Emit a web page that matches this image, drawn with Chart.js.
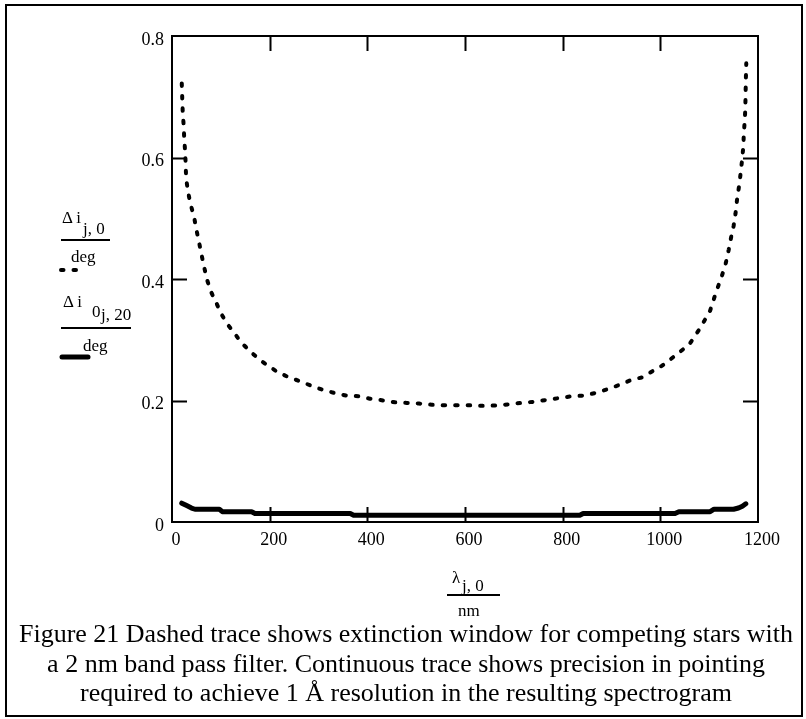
<!DOCTYPE html>
<html>
<head>
<meta charset="utf-8">
<script src="https://cdn.jsdelivr.net/npm/chart.js@4.4.1/dist/chart.umd.min.js"></script>
<style>
  html, body { margin:0; padding:0; background:#fff; }
  #page { position:relative; width:806px; height:719px; overflow:hidden; font-family:"Liberation Serif","Times New Roman",serif; color:#000; }
  #frame { position:absolute; left:5px; top:4px; width:798px; height:713px; border:2px solid #000; box-sizing:border-box; }
  canvas { position:absolute; left:0; top:0; }
  .t { position:absolute; white-space:pre; line-height:17px; font-size:17px; }
  .rule { position:absolute; height:0; border-top:2px solid #000; }
  #caption { position:absolute; left:0; width:812px; top:619px; text-align:center; font-size:26px; line-height:29.5px; white-space:nowrap; }
</style>
</head>
<body>
<div id="page">
  <div id="frame"></div>
  <canvas id="c" width="806" height="719"></canvas>

  <div class="t" style="left:62px;top:209px;">Δ i</div>
  <div class="t" style="left:83px;top:220px;">j, 0</div>
  <div class="rule" style="left:61px;top:239px;width:49px;"></div>
  <div class="t" style="left:71px;top:248px;">deg</div>

  <div class="t" style="left:63px;top:293px;">Δ i</div>
  <div class="t" style="left:92px;top:303px;">0</div>
  <div class="t" style="left:101px;top:306px;">j, 20</div>
  <div class="rule" style="left:61px;top:327px;width:70px;"></div>
  <div class="t" style="left:83px;top:337px;">deg</div>

  <div class="t" style="left:452px;top:569px;">λ</div>
  <div class="t" style="left:462px;top:577px;">j, 0</div>
  <div class="rule" style="left:447px;top:594px;width:53px;"></div>
  <div class="t" style="left:458px;top:602px;">nm</div>

  <div id="caption">Figure 21 Dashed trace shows extinction window for competing stars with<br>a 2 nm band pass filter. Continuous trace shows precision in pointing<br>required to achieve 1 Å resolution in the resulting spectrogram</div>
</div>
<script>
// ---- data ----
const xTicks = [0, 200, 400, 600, 800, 1000, 1200];
const yTicks = [0, 0.2, 0.4, 0.6, 0.8];
const xTickLabels = ['0', '200', '400', '600', '800', '1000', '1200'];
const yTickLabels = ['0', '0.2', '0.4', '0.6', '0.8'];

// dashed trace: extinction window (deg) vs wavelength (nm)
const dashX = [20, 21, 22, 24, 25, 27, 28, 29, 33, 38, 45, 50, 56, 61, 66, 72, 81, 90, 100, 112,
  126, 141, 160, 178, 197, 216, 237, 261, 283, 307, 334, 358, 382, 405, 433, 457, 481, 506, 532, 558,
  583, 610, 641, 668, 692, 716, 742, 767, 793, 819, 842, 871, 893, 914, 938, 962, 979, 1003, 1018, 1040,
  1059, 1079, 1090, 1102, 1110, 1118, 1126, 1134, 1140, 1145, 1150, 1154, 1157, 1161, 1164, 1167, 1170, 1171, 1173, 1174,
  1174.5, 1175, 1176];
const dashY = [0.722, 0.697, 0.674, 0.652, 0.631, 0.609, 0.588, 0.565, 0.543, 0.523, 0.503, 0.481, 0.458, 0.438, 0.419, 0.398, 0.377, 0.362, 0.344, 0.327,
  0.313, 0.296, 0.281, 0.268, 0.257, 0.247, 0.239, 0.232, 0.225, 0.218, 0.212, 0.208, 0.207, 0.203, 0.200, 0.197, 0.196, 0.195, 0.193, 0.192,
  0.192, 0.192, 0.191, 0.192, 0.194, 0.196, 0.198, 0.201, 0.204, 0.207, 0.208, 0.213, 0.219, 0.225, 0.233, 0.238, 0.246, 0.257, 0.266, 0.280,
  0.292, 0.316, 0.331, 0.348, 0.368, 0.387, 0.405, 0.426, 0.448, 0.469, 0.487, 0.508, 0.530, 0.552, 0.571, 0.593, 0.618, 0.640, 0.662, 0.681,
  0.700, 0.725, 0.755];

// continuous trace: pointing precision (deg) vs wavelength (nm)
const solidX = [20, 30, 40, 47, 97, 103, 163, 170, 365, 372, 835, 842, 1030, 1038, 1102, 1110, 1150, 1160, 1168, 1175];
const solidY = [0.031, 0.027, 0.023, 0.021, 0.021, 0.017, 0.017, 0.014, 0.014, 0.011, 0.011, 0.014, 0.014, 0.017, 0.017, 0.021, 0.021, 0.023, 0.026, 0.030];

const DOT_DASH = [2.5, 10];

const frameTicks = {
  id: 'frameTicks',
  afterDraw(chart) {
    const { ctx, chartArea: a, scales } = chart;
    ctx.save();
    ctx.strokeStyle = '#000';
    ctx.lineWidth = 2;
    ctx.lineCap = 'butt';
    ctx.strokeRect(a.left, a.top, a.right - a.left, a.bottom - a.top);
    const L = 15;
    ctx.beginPath();
    xTicks.slice(1, -1).forEach(v => {
      const px = Math.round(scales.x.getPixelForValue(v)) + 0.5;
      ctx.moveTo(px, a.bottom); ctx.lineTo(px, a.bottom - L);
      ctx.moveTo(px, a.top); ctx.lineTo(px, a.top + L);
    });
    yTicks.slice(1, -1).forEach(v => {
      const py = Math.round(scales.y.getPixelForValue(v)) + 0.5;
      ctx.moveTo(a.left, py); ctx.lineTo(a.left + L, py);
      ctx.moveTo(a.right, py); ctx.lineTo(a.right - L, py);
    });
    ctx.stroke();
    // legend line samples
    ctx.lineCap = 'round';
    ctx.lineWidth = 4;
    ctx.setLineDash(DOT_DASH);
    ctx.beginPath(); ctx.moveTo(61, 270); ctx.lineTo(80, 270); ctx.stroke();
    ctx.setLineDash([]);
    ctx.lineWidth = 5;
    ctx.beginPath(); ctx.moveTo(62, 357); ctx.lineTo(88, 357); ctx.stroke();
    ctx.restore();
  }
};

Chart.defaults.font.family = '"Liberation Serif", "Times New Roman", serif';
Chart.defaults.color = '#000';

new Chart(document.getElementById('c'), {
  type: 'line',
  data: {
    datasets: [
      {
        data: dashX.map((x, i) => ({ x, y: dashY[i] })),
        borderColor: '#000', borderWidth: 4, borderDash: DOT_DASH, borderCapStyle: 'round',
        pointRadius: 0, tension: 0, fill: false
      },
      {
        data: solidX.map((x, i) => ({ x, y: solidY[i] })),
        borderColor: '#000', borderWidth: 5, borderCapStyle: 'round', borderJoinStyle: 'round',
        pointRadius: 0, tension: 0, fill: false
      }
    ]
  },
  options: {
    responsive: false, animation: false, devicePixelRatio: 1,
    layout: { padding: { left: 0, top: 36, right: 48, bottom: 167 } },
    plugins: { legend: { display: false }, tooltip: { enabled: false } },
    scales: {
      x: {
        type: 'linear', min: 0, max: 1200,
        afterBuildTicks: s => { s.ticks = xTicks.map(v => ({ value: v })); },
        afterFit: s => { s.height = 30; },
        grid: { display: false, drawTicks: false },
        border: { display: false },
        ticks: { font: { size: 18 }, padding: 7, labelOffset: 4, maxRotation: 0, autoSkip: false,
          callback: (v) => xTickLabels[xTicks.indexOf(v)] }
      },
      y: {
        type: 'linear', min: 0, max: 0.8,
        afterBuildTicks: s => { s.ticks = yTicks.map(v => ({ value: v })); },
        afterFit: s => { s.width = 172; },
        grid: { display: false, drawTicks: false },
        border: { display: false },
        ticks: { font: { size: 18 }, padding: 8, labelOffset: 4, autoSkip: false,
          callback: (v) => yTickLabels[yTicks.findIndex(t => Math.abs(t - v) < 1e-9)] }
      }
    }
  },
  plugins: [frameTicks]
});
</script>
</body>
</html>
